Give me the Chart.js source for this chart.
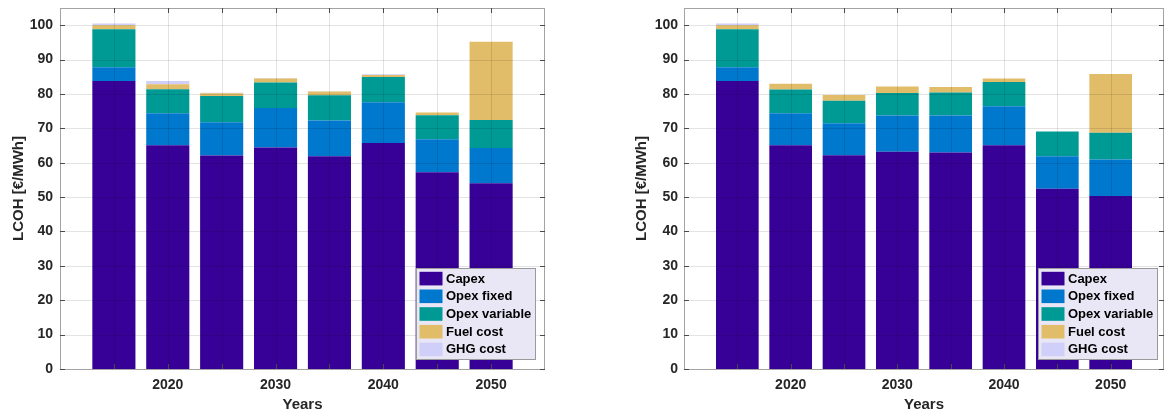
<!DOCTYPE html>
<html>
<head>
<meta charset="utf-8">
<script src="https://cdn.jsdelivr.net/npm/chart.js@4.4.1/dist/chart.umd.min.js"></script>
<style>
  html, body { margin: 0; padding: 0; background: #ffffff; }
  #wrap { position: relative; width: 1167px; height: 414px; overflow: hidden; }
  .panel { position: absolute; top: 0; height: 414px; }
</style>
</head>
<body>
<div id="wrap">
  <div class="panel" style="left:0px;width:560px"><canvas id="lcohA"></canvas></div>
  <div class="panel" style="left:620px;width:547px"><canvas id="lcohB"></canvas></div>
</div>
<script>
// Years on the horizontal axis
const years = [2015, 2020, 2025, 2030, 2035, 2040, 2045, 2050];
const tickYears = [2015, 2020, 2025, 2030, 2035, 2040, 2045, 2050];
const labelYears = [2020, 2030, 2040, 2050];
const yTicks = [0, 10, 20, 30, 40, 50, 60, 70, 80, 90, 100];

// Cost components (bottom to top of each stack)
const seriesNames = ['Capex', 'Opex fixed', 'Opex variable', 'Fuel cost', 'GHG cost'];
const seriesColors = ['#370097', '#0078cd', '#009a95', '#e1bd69', '#cfcffa'];

// Scenario A: LCOH components [€/MWh]
const capexA     = [83.8, 65.1, 62.1, 64.4, 61.9, 65.7, 57.2, 54.0];
const opexFixedA = [4.0, 9.3, 9.7, 11.5, 10.4, 11.9, 9.6, 10.3];
const opexVarA   = [11.0, 7.0, 7.6, 7.4, 7.3, 7.3, 7.0, 8.1];
const fuelA      = [1.2, 1.4, 0.8, 1.2, 1.1, 0.6, 0.8, 22.8];
const ghgA       = [0.5, 1.0, 0.15, 0.15, 0.1, 0.2, 0, 0];

// Scenario B: LCOH components [€/MWh]
const capexB     = [83.8, 65.1, 62.2, 63.2, 63.0, 65.1, 52.4, 50.3];
const opexFixedB = [4.0, 9.3, 9.3, 10.5, 10.7, 11.3, 9.5, 10.6];
const opexVarB   = [11.0, 6.9, 6.5, 6.6, 6.7, 7.1, 7.2, 7.8];
const fuelB      = [1.2, 1.7, 1.7, 1.9, 1.6, 1.0, 0, 17.1];
const ghgB       = [0.5, 0, 0, 0, 0, 0, 0, 0];

const FONT = "'Liberation Sans', Arial, Helvetica, sans-serif";
const TEXT = '#262626';

function makeDatasets(series) {
  return series.map((vals, k) => ({
    label: seriesNames[k],
    data: vals.map((v, i) => ({ x: years[i], y: v })),
    backgroundColor: seriesColors[k],
    borderWidth: 0,
    categoryPercentage: 1.0,
    barPercentage: 0.8
  }));
}

// Grid, boxed frame with inward ticks and the legend box, drawn over the bars
const frameAndKey = {
  id: 'frameAndKey',
  afterDatasetsDraw(chart, args, opts) {
    const ctx = chart.ctx;
    const a = chart.chartArea;
    const xs = chart.scales.x, ys = chart.scales.y;
    ctx.save();
    ctx.lineWidth = 1;

    // grid lines
    ctx.strokeStyle = 'rgba(0,0,0,0.11)';
    ctx.beginPath();
    ys.ticks.forEach(t => {
      const py = Math.round(ys.getPixelForValue(t.value)) + 0.5;
      if (py > a.top + 1 && py < a.bottom - 1) { ctx.moveTo(a.left, py); ctx.lineTo(a.right, py); }
    });
    xs.ticks.forEach(t => {
      const px = Math.round(xs.getPixelForValue(t.value)) + 0.5;
      if (px > a.left + 1 && px < a.right - 1) { ctx.moveTo(px, a.top); ctx.lineTo(px, a.bottom); }
    });
    ctx.stroke();

    // frame
    ctx.strokeStyle = '#a3a3a3';
    ctx.strokeRect(Math.round(a.left) + 0.5, Math.round(a.top) + 0.5,
                   Math.round(a.right - a.left) - 1, Math.round(a.bottom - a.top));

    // inward tick marks on all four sides
    ctx.strokeStyle = '#4a4a4a';
    ctx.beginPath();
    const tl = 5;
    ys.ticks.forEach(t => {
      const py = Math.round(ys.getPixelForValue(t.value)) + 0.5;
      ctx.moveTo(a.left, py); ctx.lineTo(a.left + tl, py);
      ctx.moveTo(a.right, py); ctx.lineTo(a.right - tl, py);
    });
    xs.ticks.forEach(t => {
      const px = Math.round(xs.getPixelForValue(t.value)) + 0.5;
      ctx.moveTo(px, a.bottom); ctx.lineTo(px, a.bottom - tl);
      ctx.moveTo(px, a.top); ctx.lineTo(px, a.top + tl);
    });
    ctx.stroke();

    // legend box in the lower right corner
    const ds = chart.data.datasets;
    ctx.font = 'bold 13px ' + FONT;
    let maxW = 0;
    ds.forEach(d => { maxW = Math.max(maxW, ctx.measureText(d.label).width); });
    const rowH = 17.7, padY = 10.6;
    const boxW = Math.round(30 + maxW + 5);
    const boxH = Math.round(2 * padY + (ds.length - 1) * rowH);
    const bx = Math.round(a.right - opts.gapRight - boxW);
    const by = Math.round(a.bottom - opts.gapBottom - boxH);
    ctx.fillStyle = '#e9e6f5';
    ctx.fillRect(bx, by, boxW, boxH);
    ctx.strokeStyle = '#9a9a9a';
    ctx.strokeRect(bx + 0.5, by + 0.5, boxW - 1, boxH - 1);
    ctx.textBaseline = 'middle';
    ctx.textAlign = 'left';
    ds.forEach((d, i) => {
      const cy = by + padY + i * rowH;
      ctx.fillStyle = d.backgroundColor;
      ctx.fillRect(bx + 3.5, cy - 6.8, 23, 13.6);
      ctx.fillStyle = '#000000';
      ctx.fillText(d.label, bx + 30, cy + 0.5);
    });
    ctx.restore();
  }
};

function makeChart(id, series, cfg) {
  return new Chart(document.getElementById(id), {
    type: 'bar',
    data: { datasets: makeDatasets(series) },
    plugins: [frameAndKey],
    options: {
      responsive: true,
      maintainAspectRatio: false,
      animation: false,
      layout: { padding: { top: 8, right: cfg.padRight, left: 0, bottom: 0 } },
      plugins: {
        legend: { display: false },
        tooltip: { enabled: false },
        frameAndKey: { gapRight: cfg.gapRight, gapBottom: 9 }
      },
      scales: {
        x: {
          type: 'linear',
          stacked: true,
          offset: false,
          min: 2010,
          max: 2055,
          afterBuildTicks: s => { s.ticks = tickYears.map(v => ({ value: v })); },
          afterFit: s => { s.height = 45; s.paddingLeft = 0; s.paddingRight = 0; },
          grid: { display: false, drawTicks: false },
          border: { display: false },
          ticks: {
            autoSkip: false,
            maxRotation: 0,
            padding: 8,
            color: TEXT,
            font: { family: FONT, size: 14, weight: 'bold' },
            callback: v => labelYears.includes(v) ? String(v) : ''
          },
          title: {
            display: true,
            text: 'Years',
            color: TEXT,
            font: { family: FONT, size: 15, weight: 'bold' },
            padding: { top: 0, bottom: 0 }
          }
        },
        y: {
          stacked: true,
          min: 0,
          max: 105,
          afterBuildTicks: s => { s.ticks = yTicks.map(v => ({ value: v })); },
          afterFit: s => { s.width = cfg.yWidth; s.paddingTop = 0; s.paddingBottom = 0; },
          grid: { display: false, drawTicks: false },
          border: { display: false },
          ticks: {
            padding: cfg.labelPad,
            color: TEXT,
            font: { family: FONT, size: 14, weight: 'bold' }
          },
          title: {
            display: true,
            text: 'LCOH [€/MWh]',
            color: TEXT,
            font: { family: FONT, size: 15, weight: 'bold' },
            padding: { top: cfg.titlePad, bottom: 0 }
          }
        }
      }
    }
  });
}

makeChart('lcohA', [capexA, opexFixedA, opexVarA, fuelA, ghgA],
  { yWidth: 60, padRight: 15, labelPad: 7, titlePad: 10, gapRight: 9 });
makeChart('lcohB', [capexB, opexFixedB, opexVarB, fuelB, ghgB],
  { yWidth: 64, padRight: 3, labelPad: 6, titlePad: 13, gapRight: 6 });
</script>
</body>
</html>
